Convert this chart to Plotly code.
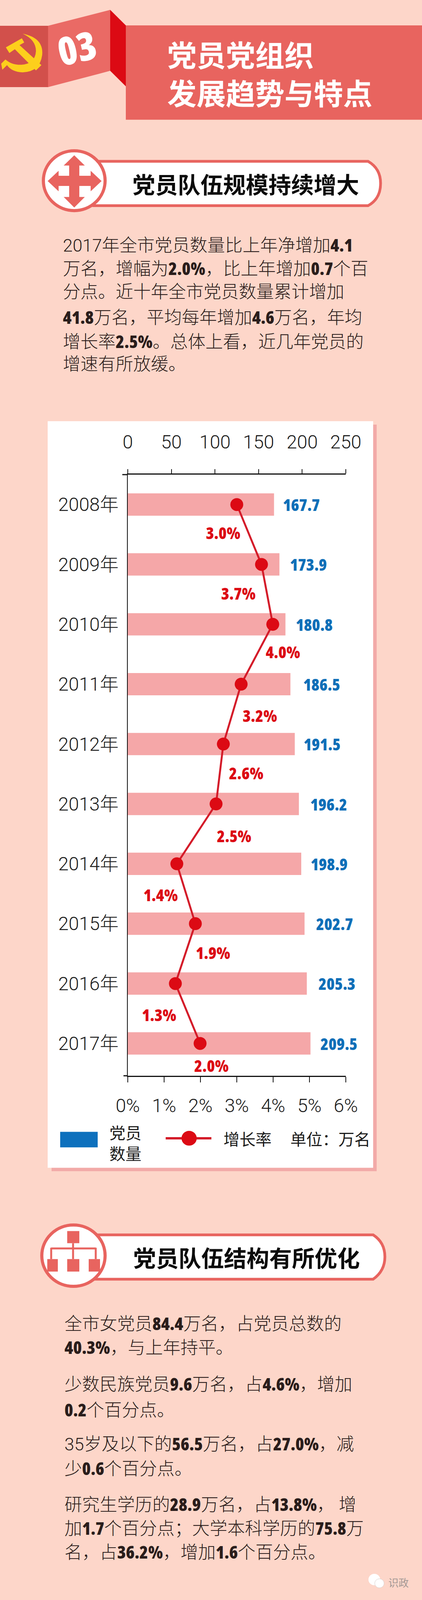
import re
import plotly.graph_objects as go

W, H = 1080, 4224
# 浏览器窗口实际只有4096高, 整张图按比例压进去
VIEW_H = 4096
YS = VIEW_H / H

# 图表数据
years = ["2008年", "2009年", "2010年", "2011年", "2012年", "2013年", "2014年", "2015年", "2016年", "2017年"]
members = [167.7, 173.9, 180.8, 186.5, 191.5, 196.2, 198.9, 202.7, 205.3, 209.5]
member_labels = ["167.7", "173.9", "180.8", "186.5", "191.5", "196.2", "198.9", "202.7", "205.3", "209.5"]
rate_points = [3.0, 3.68, 3.99, 3.12, 2.63, 2.43, 1.35, 1.86, 1.31, 1.99]
rate_labels = ["3.0%", "3.7%", "4.0%", "3.2%", "2.6%", "2.5%", "1.4%", "1.9%", "1.3%", "2.0%"]
member_ticks = [0, 50, 100, 150, 200, 250]
rate_ticks = [0, 1, 2, 3, 4, 5, 6]
rate_ticktext = ["0%", "1%", "2%", "3%", "4%", "5%", "6%"]

# 标签偏移 (px)
member_gap = [21, 25, 24, 31, 21, 27, 22, 28, 28, 23]
rate_dx = [-35, -59, 26, 48, 58, 46, -42, 45, -42, 29]
rate_dy = [74, 76, 72, 82, 76, 84, 82, 76, 82, 58]

# 文字, []里是加粗的数字
title_lines = ["党员党组织", "发展趋势与特点"]
section_1 = "党员队伍规模持续增大"
section_2 = "党员队伍结构有所优化"
body_1 = [
    "2017年全市党员数量比上年净增加[4.1]",
    "万名，增幅为[2.0%]，比上年增加[0.7]个百",
    "分点。近十年全市党员数量累计增加",
    "[41.8]万名，平均每年增加[4.6]万名，年均",
    "增长率[2.5%]。总体上看，近几年党员的",
    "增速有所放缓。",
]
body_1_y = [646, 708, 771, 837, 901, 962]
body_2 = [
    "全市女党员[84.4]万名，占党员总数的",
    "[40.3%]，与上年持平。",
    "少数民族党员[9.6]万名，占[4.6%]，增加",
    "[0.2]个百分点。",
    "35岁及以下的[56.5]万名，占[27.0%]，减",
    "少[0.6]个百分点。",
    "研究生学历的[28.9]万名，占[13.8%]， 增",
    "加[1.7]个百分点；大学本科学历的[75.8]万",
    "名，占[36.2%]，增加[1.6]个百分点。",
]
body_2_y = [3493, 3556, 3653, 3721, 3811, 3876, 3971, 4034, 4097]

BG = "#fdd6c9"
CORAL = "#e8645f"
DARK = "#d2504b"
RED = "#dc0a14"
LINE_RED = "#d41c2a"
PINK = "#f5a7a8"
BLUE = "#0f6fb8"
YELLOW = "#fdcf1c"
TEXT = "#2a1d1b"
CJK = "Noto Sans CJK SC"
LATIN = "Roboto, Noto Sans CJK SC"


def px(x):
    return x / W


def py(y):
    return 1 - y / H


def path(points, close=True):
    s = "M " + " L ".join(f"{px(x):.5f},{py(y):.5f}" for x, y in points)
    return s + (" Z" if close else "")


def svg(cmds):
    # 像素坐标的path转成paper坐标
    out = []
    for c, *nums in cmds:
        pts = [f"{px(nums[i]):.5f},{py(nums[i + 1]):.5f}" for i in range(0, len(nums), 2)]
        out.append(c + " " + " ".join(pts))
    return " ".join(out) + " Z"


def heavy(s, size):
    return f"<span style=\"font-family:'Open Sans';font-weight:800;font-stretch:75%;font-size:{size}px\">{s}</span>"


def bold_runs(line):
    return re.sub(r"\[(.+?)\]", lambda m: heavy(m.group(1), 45), line)


shapes = []
notes = []


def poly(points, color):
    shapes.append(dict(type="path", path=path(points), xref="paper", yref="paper",
                       fillcolor=color, line_width=0, layer="below"))


def curve(cmds, color, line_color=None, line_width=0):
    shapes.append(dict(type="path", path=svg(cmds), xref="paper", yref="paper", fillcolor=color,
                       line=dict(color=line_color or color, width=line_width), layer="below"))


def rect(x0, y0, x1, y1, color):
    shapes.append(dict(type="rect", x0=px(x0), x1=px(x1), y0=py(y0), y1=py(y1), xref="paper", yref="paper",
                       fillcolor=color, line_width=0, layer="below"))


def circle(cx, cy, r, color, line_color=None, line_width=0, layer="below"):
    shapes.append(dict(type="circle", x0=px(cx - r), x1=px(cx + r), y0=py(cy + r), y1=py(cy - r),
                       xref="paper", yref="paper", fillcolor=color,
                       line=dict(color=line_color or color, width=line_width), layer=layer))


def seg(x0, y0, x1, y1, color, width, layer="below"):
    shapes.append(dict(type="line", x0=px(x0), x1=px(x1), y0=py(y0), y1=py(y1), xref="paper", yref="paper",
                       line=dict(color=color, width=width), layer=layer))


def text(x, y, s, size, color=TEXT, family=CJK, weight=None, anchor="left", angle=0):
    font = dict(family=family, size=size, color=color)
    if weight:
        font["weight"] = weight
    notes.append(dict(x=px(x), y=py(y), xref="paper", yref="paper", text=s, showarrow=False, font=font,
                      xanchor=anchor, yanchor="middle", textangle=angle, align="left"))


# 头部
poly([(0, 68), (123, 68), (123, 230), (0, 230)], DARK)
poly([(123, 68), (282, 26), (282, 187), (123, 230)], "#ea6a65")
poly([(282, 26), (322, 67), (322, 228), (282, 187)], RED)
rect(322, 67, W, 316, CORAL)
curve([("M", 58, 89), ("Q", 112, 100, 108, 145), ("Q", 102, 190, 58, 191), ("Q", 30, 190, 18, 172),
       ("L", 6, 184), ("L", 3, 168), ("L", 14, 157), ("Q", 30, 172, 55, 171), ("Q", 90, 168, 92, 135),
       ("Q", 92, 105, 58, 89)], YELLOW)
poly([(15, 125), (56, 101), (62, 112), (50, 119), (106, 172), (92, 186), (38, 130), (24, 140)], YELLOW)
text(196, 125, heavy("03", 100), 100, "white", CJK, None, "center", -13)
text(426, 192, "<br>".join(title_lines), 75, "white", CJK, "bold")

# 第一个小标题
curve([("M", 240, 426), ("L", 942, 426), ("Q", 974, 445, 974, 484), ("Q", 974, 525, 942, 543), ("L", 240, 543)],
      "white", CORAL, 7)
circle(190, 477, 79, "white", CORAL, 8)
poly([(190, 410), (217, 437), (203, 437), (203, 464), (232, 464), (232, 451), (260, 478), (232, 505), (232, 491),
      (203, 491), (203, 520), (217, 520), (190, 548), (163, 520), (177, 520), (177, 491), (150, 491), (150, 505),
      (122, 478), (150, 451), (150, 464), (177, 464), (177, 437), (163, 437)], CORAL)
text(337, 485, section_1, 58, "#0b0b0b", CJK, "bold")

for line, y in zip(body_1, body_1_y):
    text(159, y, bold_runs(line), 45, TEXT, LATIN, 300)

# 图表底板
rect(132, 1121, 964, 3092, "#f2aaa8")
rect(122, 1112, 955, 3083, "white")

# 坐标轴露头
seg(313, 1253, 327, 1253, "#111", 3)
seg(316, 2840, 327, 2840, "#111", 3)
seg(327, 2840, 327, 2854, "#111", 2)

# 图例
rect(154, 2988, 250, 3029, "#0d70bd")
text(278, 3016, "党员<br>数量", 41, "#1c1c1c", CJK)
seg(424, 3005, 541, 3005, LINE_RED, 6, "above")
circle(484, 3005, 19.5, RED, layer="above")
text(570, 3005, "增长率", 41, "#1c1c1c", CJK)
text(741, 3005, "单位：万名", 41, "#1c1c1c", CJK)

# 第二个小标题
curve([("M", 240, 3260), ("L", 955, 3260), ("Q", 985, 3280, 985, 3318), ("Q", 985, 3355, 955, 3377), ("L", 240, 3377)],
      "white", CORAL, 7)
circle(188, 3315, 81, "white", CORAL, 8)
rect(172, 3250, 203, 3282, CORAL)
seg(187, 3282, 187, 3324, CORAL, 5)
seg(131, 3296, 245, 3296, CORAL, 5)
seg(131, 3294, 131, 3324, CORAL, 5)
seg(245, 3294, 245, 3324, CORAL, 5)
rect(121, 3324, 148, 3357, CORAL)
rect(172, 3324, 203, 3357, CORAL)
rect(227, 3324, 256, 3357, CORAL)
text(339, 3319, section_2, 58, "#0b0b0b", CJK, "bold")

for line, y in zip(body_2, body_2_y):
    text(163, y, bold_runs(line), 45, TEXT, LATIN, 300)

# 水印
circle(958, 4170, 15, "white")
circle(971, 4180, 12, "white", "#d9cfcb", 1)
text(992, 4177, "识政", 26, "#a39894", CJK)

fig = go.Figure()
fig.add_trace(go.Bar(x=members, y=years, orientation="h", marker=dict(color=PINK, line_width=0),
                     xaxis="x", yaxis="y", width=0.373))
fig.add_trace(go.Scatter(x=rate_points, y=years, mode="lines+markers", xaxis="x2", yaxis="y",
                         line=dict(color=LINE_RED, width=5),
                         marker=dict(color=RED, size=33), cliponaxis=False))

for year, v, label, gap in zip(years, members, member_labels, member_gap):
    notes.append(dict(x=v, y=year, xref="x", yref="y", text=heavy(label, 42), showarrow=False, xanchor="left",
                      yanchor="middle", xshift=gap, font=dict(size=42, color=BLUE)))
for year, v, label, dx, dy in zip(years, rate_points, rate_labels, rate_dx, rate_dy):
    notes.append(dict(x=v, y=year, xref="x2", yref="y", text=heavy(label, 42), showarrow=False, xanchor="center",
                      yanchor="middle", xshift=dx, yshift=-dy * YS, font=dict(size=42, color=RED)))

tick_font = dict(family=LATIN, size=48, color="#1c1c1c", weight=300)
fig.update_layout(
    template="none",
    width=W, height=VIEW_H, margin=dict(l=0, r=0, t=0, b=0, pad=0),
    paper_bgcolor=BG, plot_bgcolor="rgba(0,0,0,0)", showlegend=False,
    font=dict(family=CJK),
    shapes=shapes, annotations=notes,
    xaxis=dict(domain=[px(327), px(885)], range=[0, 250], side="top", anchor="y", tickvals=member_ticks,
               automargin=False, showgrid=False, zeroline=False, showline=True, linecolor="#111", linewidth=3,
               ticks="outside", ticklen=11, tickwidth=2, tickcolor="#111", tickfont=tick_font,
               ticklabelstandoff=34),
    xaxis2=dict(domain=[px(327), px(885)], range=[0, 6], side="bottom", anchor="y", overlaying="x",
                tickvals=rate_ticks, ticktext=rate_ticktext, automargin=False, showgrid=False, zeroline=False,
                showline=True, linecolor="#111", linewidth=3, ticks="outside", ticklen=14, tickwidth=2,
                tickcolor="#111", tickfont=tick_font, ticklabelstandoff=18),
    yaxis=dict(domain=[py(2840), py(1253)], type="category", categoryorder="array", categoryarray=years,
               range=[9.54, -0.5], automargin=False, showgrid=False, zeroline=False, showline=True,
               linecolor="#111", linewidth=2, ticks="", tickfont=tick_font, ticklabelstandoff=12),
)

fig.write_html("out.html", post_script="document.body.style.margin='0';", config={"displayModeBar": False})
